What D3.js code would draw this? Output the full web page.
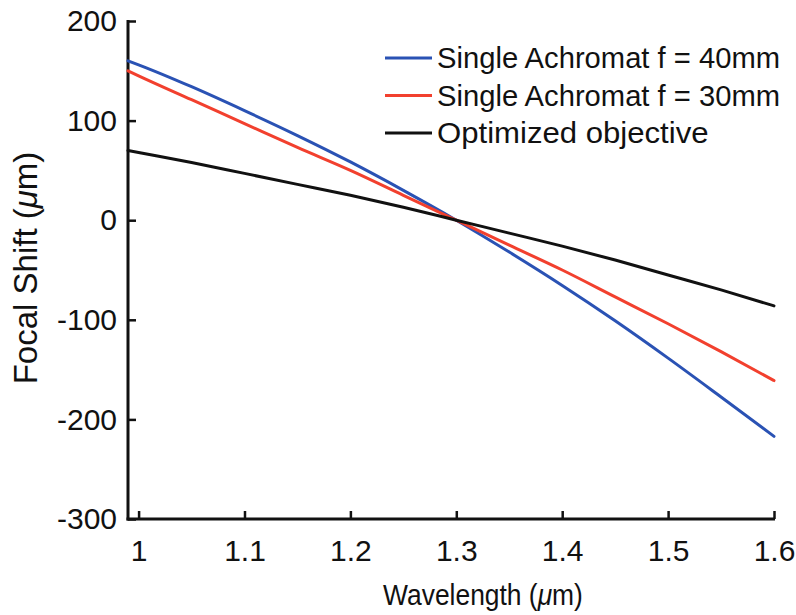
<!DOCTYPE html>
<html>
<head>
<meta charset="utf-8">
<script src="https://cdn.jsdelivr.net/npm/d3@7"></script>
<style>
  html, body { margin: 0; padding: 0; background: #fff; }
  svg { display: block; font-family: Arial, "Liberation Sans", Helvetica, sans-serif; }
</style>
</head>
<body>
<svg id="chart" width="796" height="615"></svg>
<script>
const wavelength = [0.99, 1.0, 1.05, 1.1, 1.15, 1.2, 1.25, 1.3, 1.35, 1.4, 1.45, 1.5, 1.55, 1.6];
const achromat40 = [160, 156, 134, 110, 85, 58.5, 30, 0, -32, -65.5, -101, -138.5, -177.5, -217];
const achromat30 = [150, 145, 121, 97, 73, 50, 25, 0, -25, -50, -77, -104, -132, -161];
const optimized  = [70, 68, 58, 47, 36, 25, 13, 0, -13, -26, -40, -55, -70, -86];
const seriesNames = ["Single Achromat f = 40mm", "Single Achromat f = 30mm", "Optimized objective"];
const seriesColors = ["#2a52b4", "#f2402e", "#111111"];
const xTicks = [1, 1.1, 1.2, 1.3, 1.4, 1.5, 1.6];
const yTicks = [200, 100, 0, -100, -200, -300];

const svg = d3.select("#chart");
const x = d3.scaleLinear().domain([0.99, 1.6]).range([128, 774]);
const y = d3.scaleLinear().domain([-300, 200]).range([519, 21]);

const series = [achromat40, achromat30, optimized];

// axes
const xAxis = svg.append("g").attr("transform", `translate(0,${y(-300)})`)
  .call(d3.axisBottom(x).tickValues(xTicks).tickSize(-8)
        .tickFormat(d => String(d)));
const yAxis = svg.append("g").attr("transform", `translate(${x(0.99)},0)`)
  .call(d3.axisLeft(y).tickValues(yTicks).tickSize(-8).tickPadding(11)
        .tickFormat(d => String(d)));

[xAxis, yAxis].forEach(g => {
  g.select(".domain").remove();
  g.selectAll(".tick line").attr("stroke", "#111").attr("stroke-width", 2.5);
  g.selectAll(".tick text").attr("fill", "#111").attr("font-size", 30);
});
xAxis.selectAll(".tick text").attr("dy", "0.71em").attr("y", 21);

svg.append("line").attr("x1", x(0.99) - 1.5).attr("x2", x(1.6) + 1)
  .attr("y1", y(-300)).attr("y2", y(-300)).attr("stroke", "#111").attr("stroke-width", 3);
svg.append("line").attr("x1", x(0.99)).attr("x2", x(0.99))
  .attr("y1", y(200) - 1).attr("y2", y(-300) + 1.5).attr("stroke", "#111").attr("stroke-width", 3);

// lines
const line = d3.line().x((d, i) => x(wavelength[i])).y(d => y(d)).curve(d3.curveMonotoneX);
series.forEach((s, k) => {
  svg.append("path").datum(s).attr("d", line)
    .attr("fill", "none").attr("stroke", seriesColors[k]).attr("stroke-width", 3)
    .attr("stroke-linecap", "round");
});

// legend
const leg = svg.append("g");
seriesNames.forEach((name, k) => {
  const ly = 58 + k * 37.5;
  leg.append("line").attr("x1", 385).attr("x2", 432).attr("y1", ly).attr("y2", ly)
    .attr("stroke", seriesColors[k]).attr("stroke-width", 3);
  leg.append("text").attr("x", 437).attr("y", ly).attr("dy", "0.36em")
    .attr("font-size", 29).attr("fill", "#111")
    .attr("textLength", 343 * name.length / 24).attr("lengthAdjust", "spacingAndGlyphs")
    .text(name);
});

// axis titles
const xt = svg.append("text").attr("transform", "translate(483,605) scale(0.88,1)")
  .attr("text-anchor", "middle").attr("font-size", 30).attr("fill", "#111");
xt.append("tspan").text("Wavelength (");
xt.append("tspan").attr("font-style", "italic").text("\u03BC");
xt.append("tspan").text("m)");

const yt = svg.append("text").attr("transform", "translate(37,268) rotate(-90)")
  .attr("text-anchor", "middle").attr("font-size", 33).attr("fill", "#111");
yt.append("tspan").text("Focal Shift (");
yt.append("tspan").attr("font-style", "italic").text("\u03BC");
yt.append("tspan").text("m)");
</script>
</body>
</html>
